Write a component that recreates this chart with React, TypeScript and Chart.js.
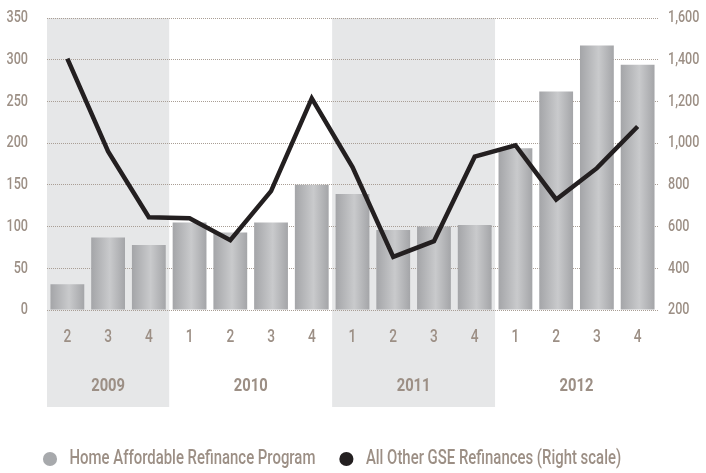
import React, { useEffect, useRef } from 'react';
import { Chart, registerables } from 'chart.js';

Chart.register(...registerables);

const quarterLabels = ['2', '3', '4', '1', '2', '3', '4', '1', '2', '3', '4', '1', '2', '3', '4'];
const yearLabels = ['2009', '2010', '2011', '2012'];
const quartersPerYear = [3, 4, 4, 4];
const shadedYears = [true, false, true, false];
const harpValues = [31, 87, 78, 105, 93, 105, 150, 139, 96, 100, 102, 194, 262, 317, 294];
const otherGseValues = [1405, 960, 645, 640, 535, 770, 1215, 885, 455, 530, 935, 990, 730, 880, 1080];
const leftTickRange = [0, 350, 50];
const rightTickRange = [200, 1600, 200];
const harpLabel = 'Home Affordable Refinance Program';
const otherLabel = 'All Other GSE Refinances (Right scale)';

const FONT = "Roboto, 'Liberation Sans', sans-serif";
const TEXT = '#9c8f85';
const GRID = '#a99e95';
const BAND = '#e6e7e8';
const BAR_PCT = 0.83;
const LEGEND_FONT = 19.5;
const LEGEND_PAD = 21.25;
const LEGEND_H = LEGEND_FONT + LEGEND_PAD + 10;
const X_AXIS_H = 473 - 310 - LEGEND_H;

const bandsPlugin = {
  id: 'bands',
  afterLayout(chart: any) {
    const lg = chart.legend;
    if (lg) {
      lg.left = 19;
      lg.top = 459 - LEGEND_PAD - LEGEND_FONT / 2;
    }
  },
  beforeDraw(chart: any) {
    const { ctx, chartArea, scales } = chart;
    const xs = scales.x;
    const cw = xs.width / quarterLabels.length;
    ctx.save();
    let idx = 0;
    quartersPerYear.forEach((n, i) => {
      const x0 = xs.getPixelForValue(idx) - cw / 2;
      const x1 = xs.getPixelForValue(idx + n - 1) + cw / 2;
      if (shadedYears[i]) {
        ctx.fillStyle = BAND;
        ctx.fillRect(x0, chartArea.top, x1 - x0, 407 - chartArea.top);
      }
      idx += n;
    });
    ctx.restore();
  },
  afterDraw(chart: any) {
    const { ctx, scales } = chart;
    const xs = scales.x;
    const cw = xs.width / quarterLabels.length;
    ctx.save();
    ctx.fillStyle = TEXT;
    ctx.font = `bold 18px ${FONT}`;
    ctx.textAlign = 'center';
    ctx.textBaseline = 'middle';
    let idx = 0;
    quartersPerYear.forEach((n, i) => {
      const x0 = xs.getPixelForValue(idx) - cw / 2;
      const x1 = xs.getPixelForValue(idx + n - 1) + cw / 2;
      ctx.fillText(yearLabels[i], (x0 + x1) / 2, 386);
      idx += n;
    });
    ctx.restore();
  },
};

function condenseText(ctx: any) {
  const origFill = ctx.fillText.bind(ctx);
  const origMeasure = ctx.measureText.bind(ctx);
  const factor = () => {
    const f = String(ctx.font);
    if (/bold|700/.test(f)) return 0.82;
    if (f.indexOf(`${LEGEND_FONT}px`) >= 0) return 0.765;
    return 0.74;
  };
  ctx.fillText = (text: string, x: number, y: number) => {
    const s = factor();
    ctx.save();
    ctx.translate(x, y);
    ctx.scale(s, 1);
    origFill(text, 0, 0);
    ctx.restore();
  };
  ctx.measureText = (text: string) => {
    const m = origMeasure(text);
    const s = factor();
    return {
      width: m.width * s,
      actualBoundingBoxAscent: m.actualBoundingBoxAscent,
      actualBoundingBoxDescent: m.actualBoundingBoxDescent,
      actualBoundingBoxLeft: m.actualBoundingBoxLeft * s,
      actualBoundingBoxRight: m.actualBoundingBoxRight * s,
      fontBoundingBoxAscent: m.fontBoundingBoxAscent,
      fontBoundingBoxDescent: m.fontBoundingBoxDescent,
    };
  };
}

export default function App() {
  const ref = useRef<HTMLCanvasElement | null>(null);
  useEffect(() => {
    if (!ref.current) return;
    const ctx2d = ref.current.getContext('2d');
    condenseText(ctx2d);
    const barFill = (c: any) => {
      const chart = c.chart;
      const xs = chart.scales && chart.scales.x;
      if (!xs || c.dataIndex == null || !chart.chartArea) return '#b7b8ba';
      const cx = xs.getPixelForValue(c.dataIndex);
      const w = (xs.width / quarterLabels.length) * BAR_PCT;
      const g = chart.ctx.createLinearGradient(cx - w / 2, 0, cx + w / 2, 0);
      g.addColorStop(0, '#a4a5a8');
      g.addColorStop(0.55, '#c9cacc');
      g.addColorStop(1, '#a4a5a8');
      return g;
    };
    const fixPad = (s: any) => {
      s.paddingTop = 0;
      s.paddingBottom = 0;
    };
    const chart = new Chart(ref.current, {
      type: 'bar',
      data: {
        labels: quarterLabels,
        datasets: [
          {
            type: 'bar',
            label: harpLabel,
            data: harpValues,
            yAxisID: 'y',
            backgroundColor: barFill,
            borderWidth: 0,
            barPercentage: BAR_PCT,
            categoryPercentage: 1,
            order: 1,
          } as any,
          {
            type: 'line',
            label: otherLabel,
            data: otherGseValues,
            yAxisID: 'y1',
            borderColor: '#231f20',
            backgroundColor: '#231f20',
            borderWidth: 4.5,
            pointRadius: 0,
            tension: 0,
            order: 0,
          } as any,
        ],
      },
      options: {
        responsive: false,
        animation: false,
        layout: { padding: { top: 18, left: 0, right: 0, bottom: 0 } },
        plugins: {
          tooltip: { enabled: false },
          legend: {
            display: true,
            position: 'bottom',
            align: 'start',
            labels: {
              usePointStyle: true,
              boxWidth: 20,
              boxHeight: 10,
              padding: LEGEND_PAD,
              color: TEXT,
              font: { family: FONT, size: LEGEND_FONT, weight: '500' },
              generateLabels: () => [
                { text: harpLabel, fillStyle: '#a7a9ac', strokeStyle: '#a7a9ac', lineWidth: 0, pointStyle: 'circle', fontColor: TEXT, datasetIndex: 0, hidden: false },
                { text: otherLabel, fillStyle: '#231f20', strokeStyle: '#231f20', lineWidth: 0, pointStyle: 'circle', fontColor: TEXT, datasetIndex: 1, hidden: false },
              ],
            },
          },
        },
        scales: {
          x: {
            type: 'category',
            offset: true,
            grid: { display: false, drawTicks: false },
            border: { display: false },
            ticks: { color: TEXT, font: { family: FONT, size: 18.5, weight: '500' }, padding: 16.5, maxRotation: 0, autoSkip: false },
            afterFit: (s: any) => {
              s.height = X_AXIS_H;
              s.paddingLeft = 0;
              s.paddingRight = 0;
            },
          },
          y: {
            position: 'left',
            min: leftTickRange[0],
            max: leftTickRange[1],
            ticks: { stepSize: leftTickRange[2], color: TEXT, font: { family: FONT, size: 17, weight: '500' }, padding: 19 },
            grid: { color: GRID, lineWidth: 1, drawTicks: false },
            border: { display: false, dash: [1, 1] },
            afterFit: (s: any) => {
              s.width = 47;
              fixPad(s);
            },
          },
          y1: {
            position: 'right',
            min: rightTickRange[0],
            max: rightTickRange[1],
            ticks: {
              stepSize: rightTickRange[2],
              color: TEXT,
              font: { family: FONT, size: 17, weight: '500' },
              padding: 10,
              callback: (v: any) => Number(v).toLocaleString('en-US'),
            },
            grid: { display: false, drawTicks: false },
            border: { display: false },
            afterFit: (s: any) => {
              s.width = 48;
              fixPad(s);
            },
          },
        },
      },
      plugins: [bandsPlugin],
    });
    return () => chart.destroy();
  }, []);
  return (
    <div style={{ position: 'absolute', left: 0, top: 0, width: 706, height: 473 }}>
      <canvas ref={ref} width={706} height={473} style={{ display: 'block' }} />
    </div>
  );
}
